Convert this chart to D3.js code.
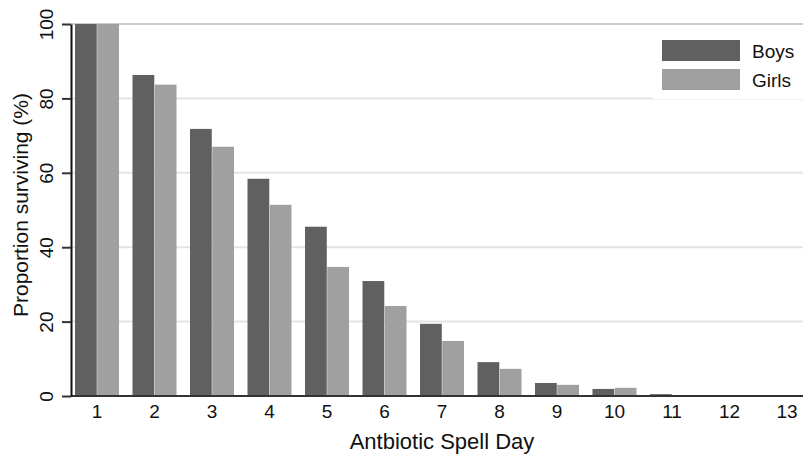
<!DOCTYPE html>
<html>
<head>
<meta charset="utf-8">
<script src="https://cdn.jsdelivr.net/npm/d3@7/dist/d3.min.js"></script>
<style>
  html, body { margin: 0; padding: 0; background: #fff; }
  svg { display: block; font-family: "Liberation Sans", Arial, Helvetica, sans-serif; }
</style>
</head>
<body>
<svg id="chart" width="803" height="456"></svg>
<script>
const days = ["1","2","3","4","5","6","7","8","9","10","11","12","13"];
const seriesNames = ["Boys", "Girls"];
const boys  = [100, 86.3, 71.8, 58.4, 45.5, 30.9, 19.4, 9.1, 3.5, 1.9, 0.5, 0.2, 0.2];
const girls = [100, 83.7, 67.0, 51.4, 34.7, 24.2, 14.8, 7.3, 3.0, 2.2, 0.1, 0.1, 0.1];
const yTicks = [0, 20, 40, 60, 80, 100];
const colors = ["#606060", "#a0a0a0"];
const xTitle = "Antbiotic Spell Day";
const yTitle = "Proportion surviving (%)";

const svg = d3.select("#chart");

const x = d3.scaleBand().domain(days).range([68.25, 815.75])
  .paddingInner(0.2348).paddingOuter(0.1174);
const xs = d3.scaleBand().domain(seriesNames).range([0, x.bandwidth()]).paddingInner(0.02);
const y = d3.scaleLinear().domain([0, 100]).range([396, 24]);

// gridlines
svg.append("g").selectAll("line").data(yTicks.filter(d => d > 0)).join("line")
  .attr("x1", 71).attr("x2", 803)
  .attr("y1", d => y(d)).attr("y2", d => y(d))
  .attr("stroke", d => d === 100 ? "#cccccc" : "#e4e4e4")
  .attr("stroke-width", 2);

// bars
const rows = days.map((d, i) => ({ day: d, vals: [boys[i], girls[i]] }));
const grp = svg.append("g").selectAll("g").data(rows).join("g")
  .attr("transform", d => `translate(${x(d.day)},0)`);
grp.selectAll("rect").data(d => d.vals.map((v, j) => ({ name: seriesNames[j], v, j }))).join("rect")
  .attr("x", d => xs(d.name))
  .attr("width", xs.bandwidth())
  .attr("y", d => y(d.v))
  .attr("height", d => y(0) - y(d.v))
  .attr("fill", d => colors[d.j]);

// x axis
const xAxis = svg.append("g").attr("transform", `translate(0,${y(0)})`)
  .call(d3.axisBottom(x).tickSize(0).tickPadding(9));
xAxis.select(".domain").remove();
xAxis.append("line").attr("x1", 71).attr("x2", 803).attr("y1", 0).attr("y2", 0)
  .attr("stroke", "#333").attr("stroke-width", 2);
xAxis.selectAll("text").attr("font-size", 19).attr("fill", "#111")
  .attr("font-family", "Liberation Sans, Arial, sans-serif");

// y axis
const yAxis = svg.append("g").attr("transform", "translate(71,0)")
  .call(d3.axisLeft(y).tickValues(yTicks).tickSize(9).tickSizeOuter(0));
yAxis.select(".domain").attr("stroke", "#111").attr("stroke-width", 2);
yAxis.selectAll(".tick line").attr("stroke", "#333").attr("stroke-width", 2);
yAxis.selectAll(".tick text")
  .attr("x", null).attr("dy", null)
  .attr("text-anchor", "middle")
  .attr("transform", "translate(-18,0) rotate(-90)")
  .attr("font-size", 19).attr("fill", "#111")
  .attr("font-family", "Liberation Sans, Arial, sans-serif");

// axis titles
svg.append("text").attr("x", 442).attr("y", 449).attr("text-anchor", "middle")
  .attr("font-size", 22).attr("fill", "#111").text(xTitle);
svg.append("text").attr("transform", "translate(28,205) rotate(-90)")
  .attr("text-anchor", "middle").attr("font-size", 21).attr("fill", "#111").text(yTitle);

// legend
const lg = svg.append("g");
lg.append("rect").attr("x", 653).attr("y", 27).attr("width", 150).attr("height", 72).attr("fill", "#fff");
seriesNames.forEach((n, i) => {
  lg.append("rect").attr("x", 662).attr("y", 40 + i * 29).attr("width", 78).attr("height", 21)
    .attr("fill", colors[i]);
  lg.append("text").attr("x", 752).attr("y", 58 + i * 29).attr("font-size", 19)
    .attr("fill", "#111").text(n);
});
</script>
</body>
</html>
